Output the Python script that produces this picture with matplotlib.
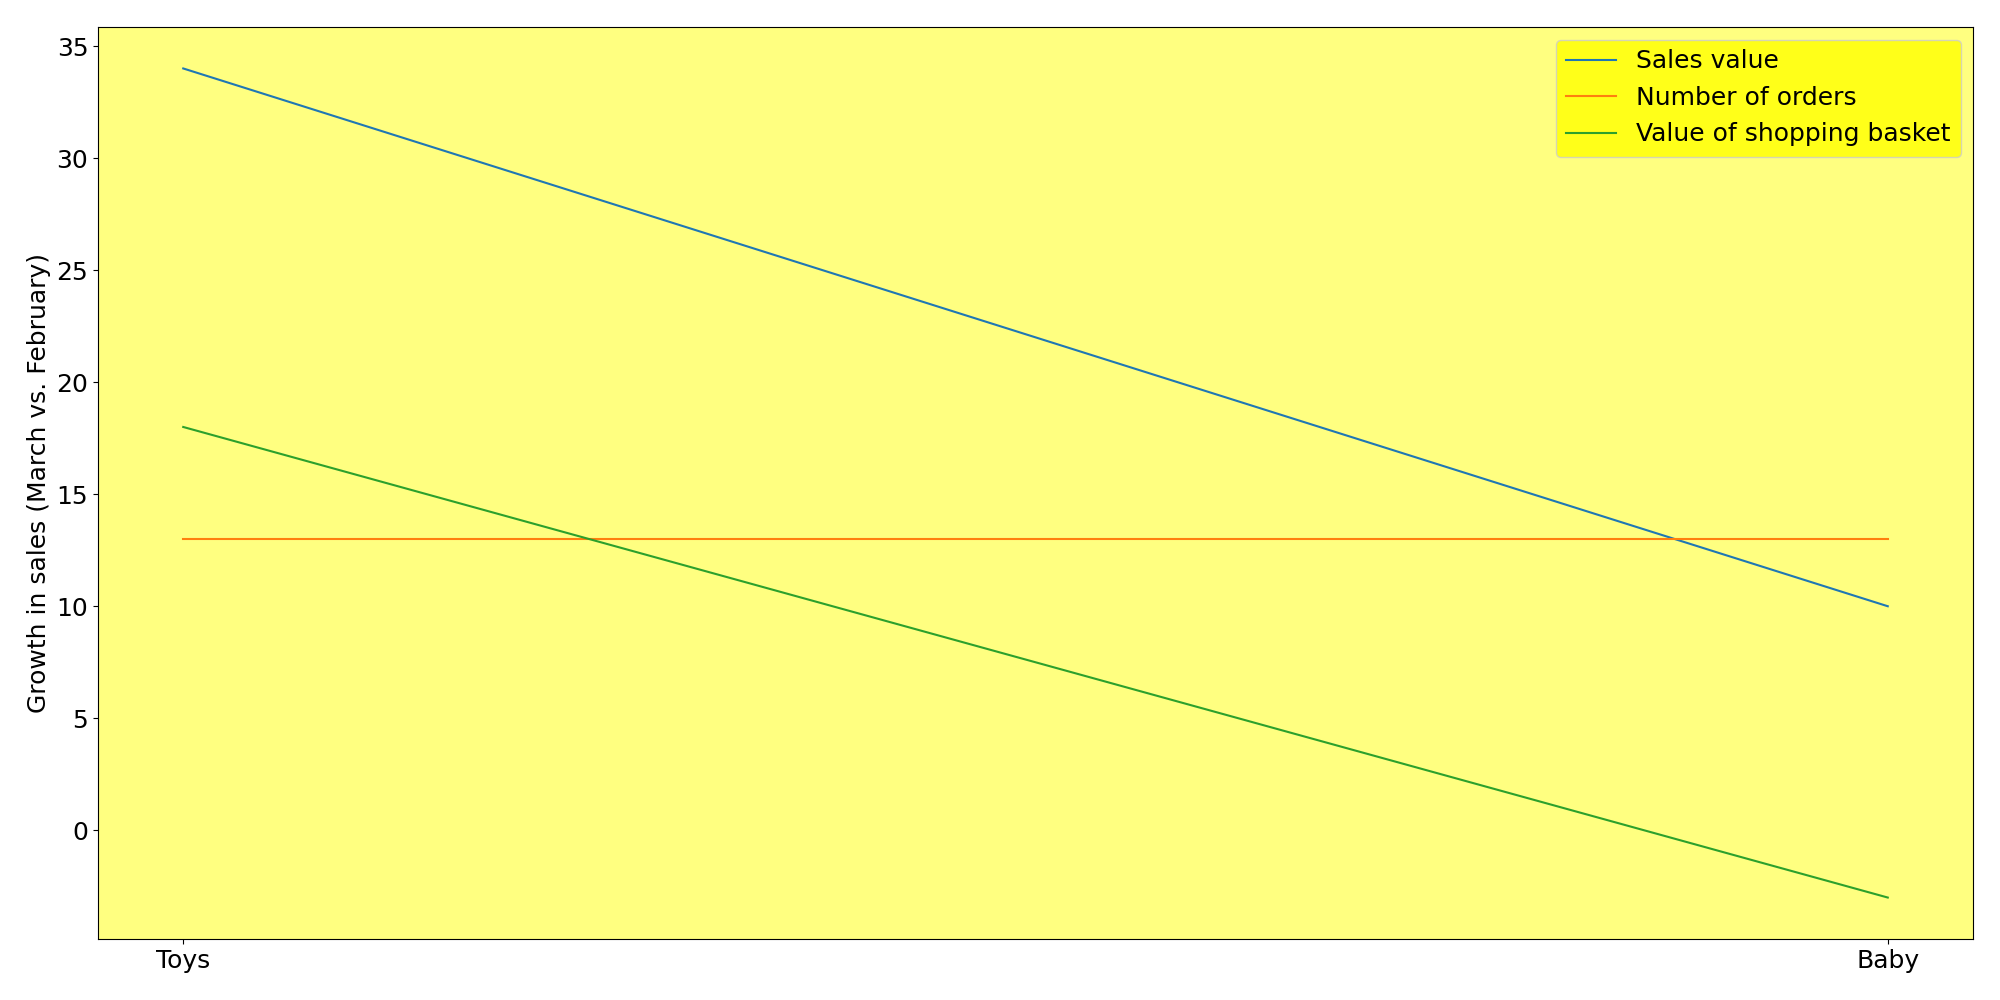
import matplotlib
matplotlib.use("Agg")
import matplotlib.pyplot as plt

categories = ["Toys", "Baby"]
sales_value = [34, 10]
number_of_orders = [13, 13]
basket_value = [18, -3]

plt.rcParams['font.size'] = 18

fig, ax = plt.subplots(figsize=(20, 10), dpi=100)
ax.set_facecolor((1.0, 1.0, 0.5))

ax.plot(categories, sales_value, label="Sales value", color="#1f77b4")
ax.plot(categories, number_of_orders, label="Number of orders", color="#ff7f0e")
ax.plot(categories, basket_value, label="Value of shopping basket", color="#2ca02c")

ax.set_ylabel("Growth in sales (March vs. February)")
leg = ax.legend(loc="upper right", facecolor="yellow")

fig.subplots_adjust(left=0.049, right=0.9865, top=0.973, bottom=0.061)
fig.savefig("out.png")
